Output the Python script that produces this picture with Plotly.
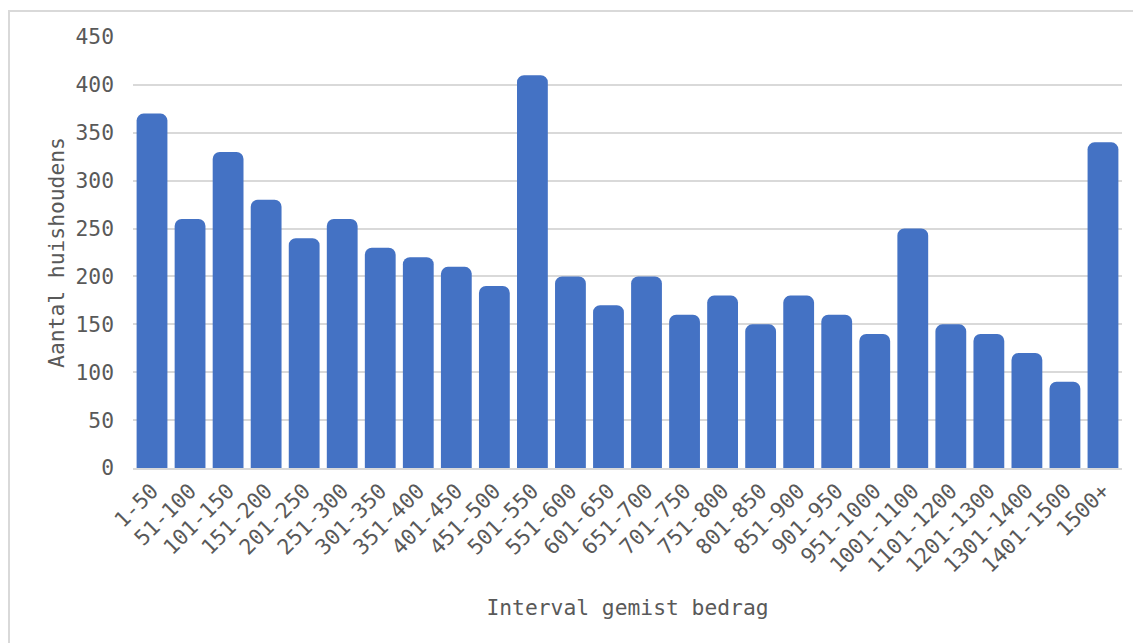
import plotly.graph_objects as go

categories = ["1-50", "51-100", "101-150", "151-200", "201-250", "251-300", "301-350",
              "351-400", "401-450", "451-500", "501-550", "551-600", "601-650", "651-700",
              "701-750", "751-800", "801-850", "851-900", "901-950", "951-1000",
              "1001-1100", "1101-1200", "1201-1300", "1301-1400", "1401-1500", "1500+"]
households = [370, 260, 330, 280, 240, 260, 230, 220, 210, 190, 410, 200, 170, 200,
              160, 180, 150, 180, 160, 140, 250, 150, 140, 120, 90, 340]
y_ticks = [0, 50, 100, 150, 200, 250, 300, 350, 400, 450]

W, H = 1133, 635
ml, mr, mt, mb = 125, 19, 29, 175
pw = W - ml - mr
ph = H - mt - mb

font = "DejaVu Sans Mono"
txt = "#595959"
fs = 21.3

fig = go.Figure(go.Bar(
    x=categories, y=households,
    marker=dict(color="#4472C4", cornerradius=7, line=dict(width=0)),
    hoverinfo="x+y",
))

# frame: only left and top edges fall inside the visible page
fx0 = (1 - ml) / pw
fx1 = (W + 40 - ml) / pw
fy0 = -(mb + 40) / ph
fy1 = (H - mb - 3) / ph
frame_path = f"M {fx0},{fy0} L {fx0},{fy1} L {fx1},{fy1}"

fig.update_layout(
    width=W, height=H,
    margin=dict(l=ml, r=mr, t=mt, b=mb, autoexpand=False),
    paper_bgcolor="white", plot_bgcolor="white",
    bargap=0.19,
    font=dict(family=font, color=txt, size=fs),
    showlegend=False,
    xaxis=dict(
        type="category",
        tickangle=-45,
        tickfont=dict(family=font, size=fs, color=txt),
        showgrid=False,
        showline=True, linecolor="#d9d9d9", linewidth=2,
        ticks="",
        title=dict(text="Interval gemist bedrag", font=dict(family=font, size=fs, color=txt), standoff=24),
    ),
    yaxis=dict(
        range=[0, 450],
        tickvals=y_ticks,
        tickfont=dict(family=font, size=fs, color=txt),
        showgrid=True, gridcolor="#d9d9d9", gridwidth=2,
        zeroline=False,
        showline=False,
        ticks="",
        ticklabelstandoff=18,
        title=dict(text="Aantal huishoudens", font=dict(family=font, size=fs, color=txt), standoff=5),
    ),
    shapes=[dict(
        type="path", xref="paper", yref="paper",
        path=frame_path,
        line=dict(color="#d9d9d9", width=2),
        layer="below",
    )],
)

fig.write_html(
    "out.html",
    post_script="document.documentElement.style.overflow='hidden';document.body.style.overflow='hidden';",
)
